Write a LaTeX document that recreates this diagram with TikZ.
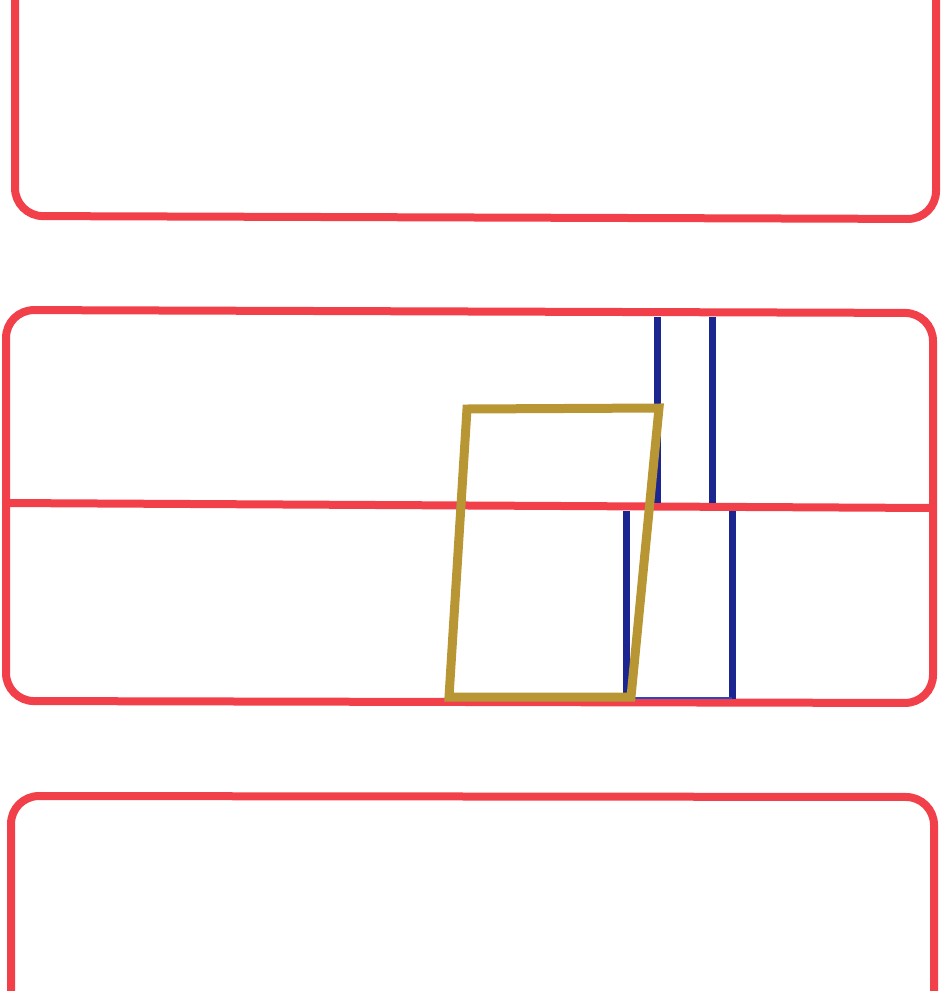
\documentclass[tikz,border=0pt]{standalone}
\begin{document}
\begin{tikzpicture}[x=1pt,y=-1pt,
  redline/.style={draw={rgb,255:red,242;green,64;blue,74}, line width=8pt, rounded corners=28pt, line join=round},
  blueline/.style={draw={rgb,255:red,28;green,38;blue,145}, line width=7pt},
  thinblue/.style={draw={rgb,255:red,40;green,70;blue,200}, line width=1.5pt},
  goldline/.style={draw={rgb,255:red,184;green,150;blue,52}, line width=9pt, line join=miter}]
\useasboundingbox (0,0) rectangle (941,991);
% top box
\draw[redline] (15,-10) -- (15,216) -- (936,219) -- (936,-10);
% middle box
\draw[redline] (6,310) -- (933,313) -- (933,703) -- (6,701) -- cycle;
\draw[redline, rounded corners=0pt] (6,503) -- (933,508);
% bottom box
\draw[redline] (11,1000) -- (11,796) -- (934,797) -- (934,1000);
% blue lines
\draw[blueline] (657,317) -- (657,503);
\draw[blueline] (712,317) -- (712,503);
\draw[blueline] (626,511) -- (626,697);
\draw[blueline] (732,511) -- (732,699);
\draw[thinblue] (632,698) -- (732,698);
% gold quadrilateral
\draw[goldline] (467,409) -- (659,408) -- (631,697) -- (449,697) -- cycle;
\end{tikzpicture}
\end{document}
